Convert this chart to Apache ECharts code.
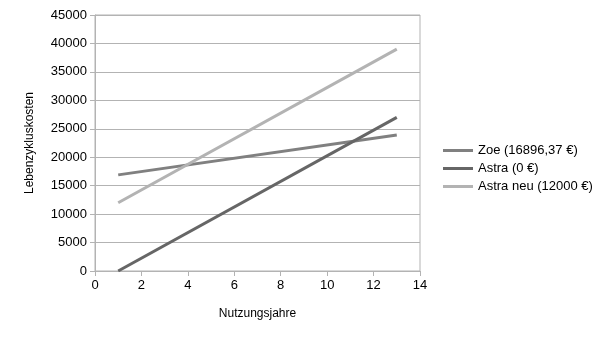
<!DOCTYPE html>
<html><head><meta charset="utf-8">
<script src="https://cdn.jsdelivr.net/npm/echarts@6/dist/echarts.min.js"></script>
<style>html,body{margin:0;padding:0;background:#fff}#c{width:604px;height:340px}</style>
</head><body><div id="c"></div>
<script>
const seriesNames = ['Zoe (16896,37 €)', 'Astra (0 €)', 'Astra neu (12000 €)'];
const years = [1, 13];
const zoe = [16896.37, 23900];
const astra = [0, 27000];
const astraNeu = [12000, 39000];
const colors = ['#808080', '#666666', '#b3b3b3'];
const allValues = [zoe, astra, astraNeu];

const chart = echarts.init(document.getElementById('c'));
const font = 'Liberation Sans, Arial, sans-serif';
chart.setOption({
  animation: false,
  backgroundColor: '#fff',
  grid: {left: 95, right: 184, top: 15, bottom: 69, show: true, borderColor: '#b3b3b3', borderWidth: 1},
  legend: {
    orient: 'vertical', left: 443, top: 144, padding: 0, itemWidth: 30, itemHeight: 3, itemGap: 5,
    icon: 'rect',
    textStyle: {fontFamily: font, fontSize: 13, color: '#000'},
    data: seriesNames
  },
  xAxis: {
    type: 'value', min: 0, max: 14, interval: 2,
    name: 'Nutzungsjahre', nameLocation: 'middle', nameGap: 37,
    nameTextStyle: {fontFamily: font, fontSize: 12, color: '#000'},
    axisLine: {show: true, lineStyle: {color: '#b3b3b3'}},
    axisTick: {show: true, length: 5, lineStyle: {color: '#b3b3b3'}},
    axisLabel: {fontFamily: font, fontSize: 13, color: '#000', margin: 8},
    splitLine: {show: false}
  },
  yAxis: {
    type: 'value', min: 0, max: 45000, interval: 5000,
    name: 'Lebenzykluskosten', nameLocation: 'middle', nameGap: 59,
    nameTextStyle: {fontFamily: font, fontSize: 12, color: '#000'},
    axisLine: {show: true, lineStyle: {color: '#b3b3b3'}},
    axisTick: {show: true, length: 5, lineStyle: {color: '#b3b3b3'}},
    axisLabel: {fontFamily: font, fontSize: 13, color: '#000', margin: 8, formatter: v => String(v)},
    splitLine: {show: true, lineStyle: {color: '#b3b3b3'}}
  },
  series: seriesNames.map((n, i) => ({
    name: n, type: 'line', showSymbol: false, symbol: 'none',
    lineStyle: {width: 3, color: colors[i]}, itemStyle: {color: colors[i]},
    data: years.map((x, j) => [x, allValues[i][j]])
  }))
});
</script></body></html>
